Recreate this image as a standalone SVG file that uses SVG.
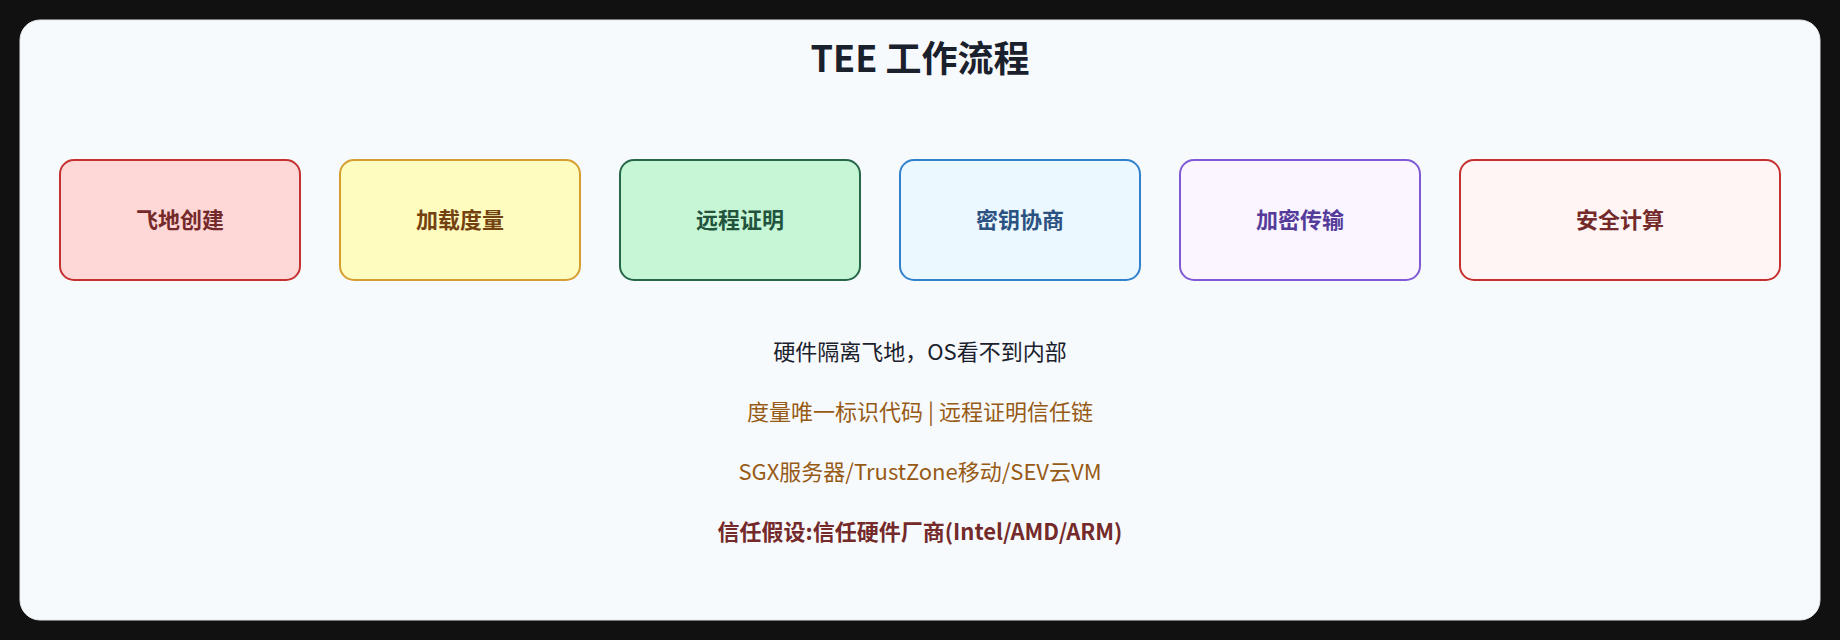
<svg xmlns="http://www.w3.org/2000/svg" width="1840" height="640" viewBox="0 0 1840 640">
<style>
text{font-family:"Noto Sans CJK SC","Noto Sans",sans-serif;text-anchor:middle}
.box{stroke-width:2}
.lbl{font-size:22px;font-weight:700}
.note{font-size:22px}
</style>
<rect x="0" y="0" width="1840" height="640" fill="#111111"/>
<rect x="20" y="20" width="1800" height="600" rx="20" fill="#f7fafc" stroke="#e2e8f0" stroke-width="1"/>
<text x="920" y="72" font-size="36" font-weight="700" fill="#1a202c">TEE 工作流程</text>
<g id="n1"><rect class="box" x="60" y="160" width="240" height="120" rx="14" fill="#fed7d7" stroke="#c53030"/><text class="lbl" x="180" y="228" fill="#742a2a">飞地创建</text></g>
<g id="n2"><rect class="box" x="340" y="160" width="240" height="120" rx="14" fill="#fefcbf" stroke="#d69e2e"/><text class="lbl" x="460" y="228" fill="#744210">加载度量</text></g>
<g id="n3"><rect class="box" x="620" y="160" width="240" height="120" rx="14" fill="#c6f6d5" stroke="#276749"/><text class="lbl" x="740" y="228" fill="#22543d">远程证明</text></g>
<g id="n4"><rect class="box" x="900" y="160" width="240" height="120" rx="14" fill="#ebf8ff" stroke="#3182ce"/><text class="lbl" x="1020" y="228" fill="#2c5282">密钥协商</text></g>
<g id="n5"><rect class="box" x="1180" y="160" width="240" height="120" rx="14" fill="#faf5ff" stroke="#805ad5"/><text class="lbl" x="1300" y="228" fill="#553c9a">加密传输</text></g>
<g id="n6"><rect class="box" x="1460" y="160" width="320" height="120" rx="14" fill="#fff5f5" stroke="#c53030"/><text class="lbl" x="1620" y="228" fill="#742a2a">安全计算</text></g>
<g id="connectors"></g>
<g id="notes">
<text class="note" x="920" y="360" fill="#1a202c">硬件隔离飞地，OS看不到内部</text>
<text class="note" x="920" y="420" fill="#975a16">度量唯一标识代码 | 远程证明信任链</text>
<text class="note" x="920" y="480" fill="#975a16">SGX服务器/TrustZone移动/SEV云VM</text>
<text class="note" x="920" y="540" font-weight="700" fill="#742a2a">信任假设:信任硬件厂商(Intel/AMD/ARM)</text>
</g>
</svg>
